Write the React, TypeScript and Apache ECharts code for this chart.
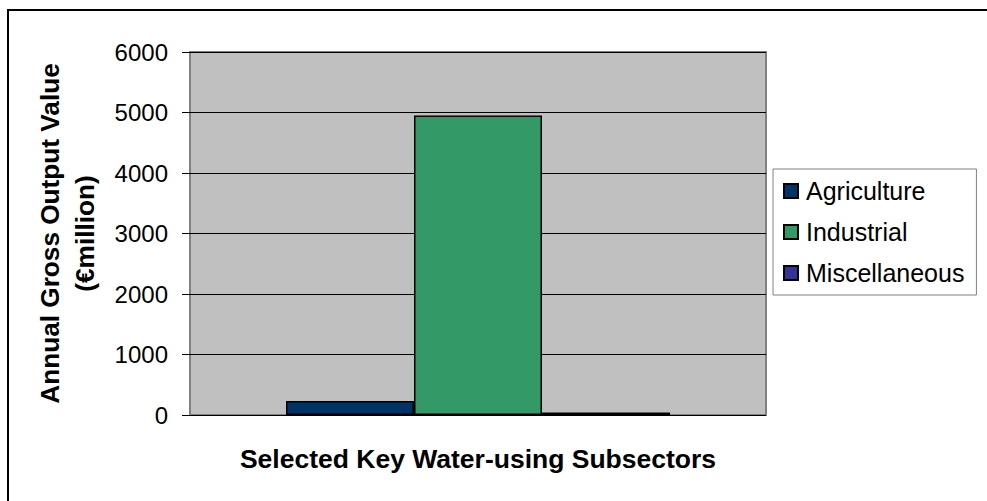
import React, { useEffect, useRef } from "react";
import * as echarts from "echarts";

const categories = ["Selected Key Water-using Subsectors"];
const seriesNames = ["Agriculture", "Industrial", "Miscellaneous"];
const agriculture = [230];
const industrial = [4950];
const miscellaneous = [40];
const seriesColors = ["#003366", "#339966", "#333399"];
const yTicks = { min: 0, max: 6000, interval: 1000 };

const FONT = "'Liberation Sans', Arial, Helvetica, sans-serif";

export default function App() {
  const ref = useRef<HTMLDivElement>(null);
  useEffect(() => {
    if (!ref.current) return;
    const chart = echarts.init(ref.current, undefined, { renderer: "svg" });
    const values = [agriculture, industrial, miscellaneous];
    chart.setOption({
      animation: false,
      backgroundColor: "#ffffff",
      textStyle: { fontFamily: FONT },
      graphic: [
        {
          type: "rect",
          shape: { x: 8, y: 10, width: 2000, height: 2000 },
          style: { fill: "none", stroke: "#000000", lineWidth: 2 },
          z: 100,
        },
      ],
      grid: {
        left: 190,
        top: 52,
        width: 576,
        height: 363,
        show: true,
        backgroundColor: "#c0c0c0",
        borderColor: "#808080",
        borderWidth: 2,
      },
      legend: {
        orient: "vertical",
        left: 773,
        top: 169,
        padding: [8, 12, 8, 10],
        itemWidth: 14,
        itemHeight: 14,
        itemGap: 13,
        borderColor: "#808080",
        borderWidth: 1,
        backgroundColor: "#ffffff",
        icon: "rect",
        textStyle: {
          fontFamily: FONT,
          fontSize: 25,
          lineHeight: 28,
          color: "#000000",
          padding: [0, 0, 0, 3],
        },
        data: seriesNames,
      },
      xAxis: {
        type: "category",
        data: categories,
        name: categories[0],
        nameLocation: "middle",
        nameGap: 30,
        nameTextStyle: {
          fontFamily: FONT,
          fontSize: 26.5,
          fontWeight: "bold",
          color: "#000000",
        },
        axisLine: { show: false },
        axisTick: { show: false },
        axisLabel: { show: false },
      },
      yAxis: {
        type: "value",
        min: yTicks.min,
        max: yTicks.max,
        interval: yTicks.interval,
        name: "Annual Gross Output Value\n(€million)",
        nameLocation: "middle",
        nameGap: 88,
        nameTextStyle: {
          fontFamily: FONT,
          fontSize: 26.2,
          fontWeight: "bold",
          color: "#000000",
          lineHeight: 35,
          align: "center",
        },
        axisLine: { show: false },
        axisTick: {
          show: true,
          length: 8,
          lineStyle: { color: "#000000", width: 1 },
        },
        axisLabel: {
          fontFamily: FONT,
          fontSize: 24,
          color: "#000000",
          margin: 22,
          formatter: (v: number) => String(v),
        },
        splitLine: { lineStyle: { color: "#000000", width: 1 } },
      },
      series: seriesNames.map((name, i) => ({
        name,
        type: "bar",
        data: values[i],
        barWidth: 128,
        barGap: "0%",
        itemStyle: {
          color: seriesColors[i],
          borderColor: "#000000",
          borderWidth: 1.5,
        },
      })),
    });
    return () => chart.dispose();
  }, []);
  return (
    <div
      ref={ref}
      style={{ position: "absolute", left: 0, top: 0, width: 987, height: 501 }}
    />
  );
}
